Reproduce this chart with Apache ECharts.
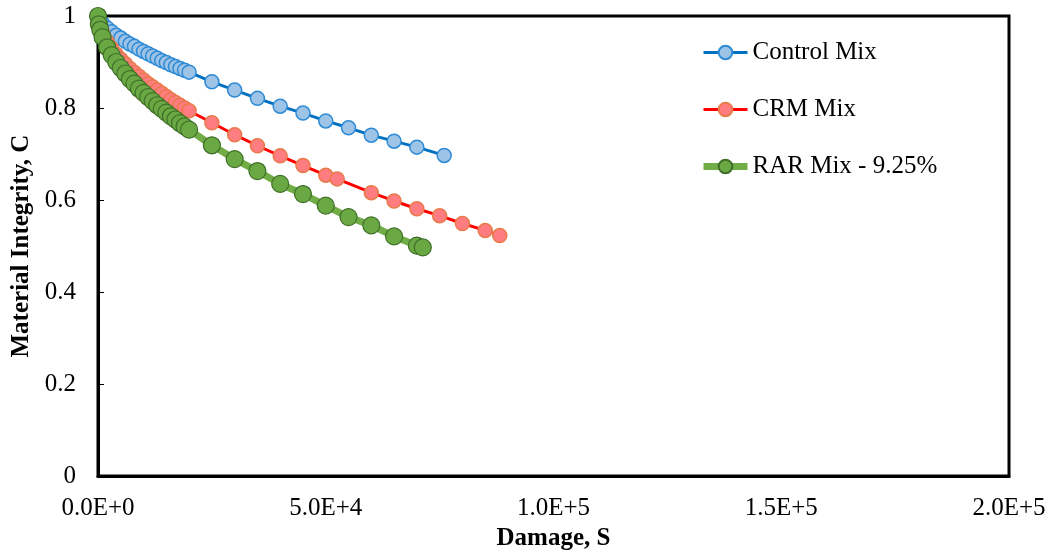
<!DOCTYPE html>
<html>
<head>
<meta charset="utf-8">
<script src="https://cdn.jsdelivr.net/npm/echarts@6/dist/echarts.min.js"></script>
<style>
  html, body { margin: 0; padding: 0; background: #fff; }
  #chart { width: 1051px; height: 556px; }
</style>
</head>
<body>
<div id="chart"></div>
<script>
// Damage (S) versus material integrity (C) for three asphalt mixes
const controlS = [0, 1000, 2000, 3000, 4000, 5000, 6000, 7000, 8000, 9000, 10000,
  11000, 12000, 13000, 14000, 15000, 16000, 17000, 18000, 19000, 20000,
  25000, 30000, 35000, 40000, 45000, 50000, 55000, 60000, 65000, 70000, 76000];
const controlC = [1.000, 0.984, 0.974, 0.966, 0.958, 0.952, 0.945, 0.939, 0.934, 0.928, 0.923,
  0.918, 0.913, 0.908, 0.903, 0.899, 0.894, 0.890, 0.886, 0.882, 0.878,
  0.857, 0.839, 0.821, 0.804, 0.789, 0.772, 0.757, 0.741, 0.728, 0.715, 0.697];

const crmS = [0, 1000, 2000, 3000, 4000, 5000, 6000, 7000, 8000, 9000, 10000,
  11000, 12000, 13000, 14000, 15000, 16000, 17000, 18000, 19000, 20000,
  25000, 30000, 35000, 40000, 45000, 50000, 52500, 60000, 65000, 70000, 75000, 80000, 85000, 88200];
const crmC = [1.000, 0.962, 0.944, 0.930, 0.917, 0.906, 0.896, 0.886, 0.877, 0.869, 0.861,
  0.853, 0.846, 0.839, 0.832, 0.825, 0.818, 0.812, 0.806, 0.800, 0.794,
  0.768, 0.742, 0.718, 0.696, 0.675, 0.654, 0.646, 0.616, 0.598, 0.581, 0.566, 0.549, 0.534, 0.523];

const rarS = [0, 200, 500, 1000, 2000, 3000, 4000, 5000, 6000, 7000, 8000, 9000, 10000,
  11000, 12000, 13000, 14000, 15000, 16000, 17000, 18000, 19000, 20000,
  25000, 30000, 35000, 40000, 45000, 50000, 55000, 60000, 65000, 70000, 71300];
const rarC = [1.000, 0.982, 0.970, 0.954, 0.932, 0.915, 0.900, 0.887, 0.875, 0.863, 0.853, 0.842, 0.833,
  0.824, 0.815, 0.806, 0.798, 0.790, 0.782, 0.775, 0.767, 0.760, 0.753,
  0.719, 0.689, 0.663, 0.635, 0.613, 0.588, 0.563, 0.545, 0.521, 0.501, 0.497];

const seriesNames = ['Control Mix', 'CRM Mix', 'RAR Mix - 9.25%'];
const xTickLabels = ['0.0E+0', '5.0E+4', '1.0E+5', '1.5E+5', '2.0E+5'];

const pairs = (xs, ys) => xs.map((x, i) => [x, ys[i]]);
const serif = 'Liberation Serif, Times New Roman, serif';

const chart = echarts.init(document.getElementById('chart'), null, { renderer: 'canvas' });

chart.setOption({
  animation: false,
  backgroundColor: '#fff',
  textStyle: { fontFamily: serif },
  grid: {
    left: 98, top: 16, right: 42, bottom: 75,
    show: true, borderColor: '#000', borderWidth: 3, backgroundColor: 'transparent'
  },
  legend: {
    orient: 'vertical',
    left: 695, top: 35,
    itemWidth: 44, itemHeight: 17, itemGap: 32,
    textStyle: { fontFamily: serif, fontSize: 25, color: '#000' },
    data: [
      { name: seriesNames[0], lineStyle: { width: 3 } },
      { name: seriesNames[1], lineStyle: { width: 3 } },
      { name: seriesNames[2], lineStyle: { width: 7 } }
    ]
  },
  xAxis: {
    type: 'value', min: 0, max: 200000, interval: 50000,
    name: 'Damage, S', nameLocation: 'middle', nameGap: 49,
    nameTextStyle: { fontFamily: serif, fontSize: 25, fontWeight: 'bold', color: '#000' },
    axisLine: { show: true, lineStyle: { color: '#000', width: 3 } },
    axisTick: { show: false },
    splitLine: { show: false },
    axisLabel: {
      fontFamily: serif, fontSize: 25, color: '#000', margin: 20,
      formatter: (v) => xTickLabels[Math.round(v / 50000)]
    }
  },
  yAxis: {
    type: 'value', min: 0, max: 1, interval: 0.2,
    name: 'Material Integrity, C', nameLocation: 'middle', nameGap: 63,
    nameTextStyle: { fontFamily: serif, fontSize: 25, fontWeight: 'bold', color: '#000' },
    axisLine: { show: true, lineStyle: { color: '#000', width: 3 } },
    axisTick: { show: true, inside: true, length: 6, lineStyle: { color: '#000', width: 1 } },
    splitLine: { show: false },
    axisLabel: { fontFamily: serif, fontSize: 25, color: '#000', margin: 22 }
  },
  series: [
    {
      name: seriesNames[0], type: 'line', data: pairs(controlS, controlC),
      showAllSymbol: true, symbol: 'circle', symbolSize: 14,
      lineStyle: { color: '#0070C0', width: 3 },
      itemStyle: { color: '#9DC3E6', borderColor: '#2E8BD6', borderWidth: 1.5 },
      z: 2
    },
    {
      name: seriesNames[1], type: 'line', data: pairs(crmS, crmC),
      showAllSymbol: true, symbol: 'circle', symbolSize: 14,
      lineStyle: { color: '#FF0000', width: 3 },
      itemStyle: { color: '#FF7C80', borderColor: '#E97B4A', borderWidth: 1.5 },
      z: 3
    },
    {
      name: seriesNames[2], type: 'line', data: pairs(rarS, rarC),
      showAllSymbol: true, symbol: 'circle', symbolSize: 17,
      lineStyle: { color: '#70AD47', width: 7 },
      itemStyle: { color: '#6AA843', borderColor: '#3F6E28', borderWidth: 1.2 },
      z: 4
    }
  ]
});
</script>
</body>
</html>
